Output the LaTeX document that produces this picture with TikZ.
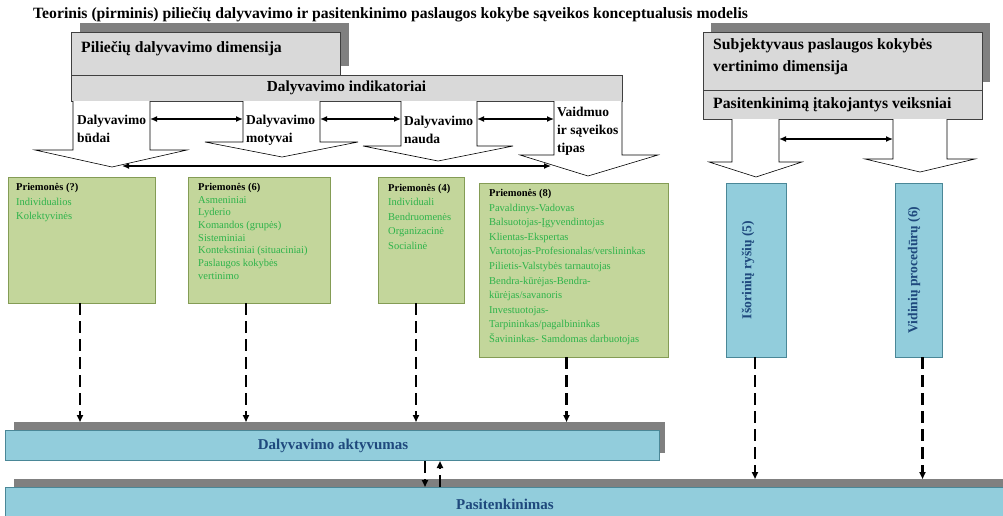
\documentclass[tikz,border=0pt]{standalone}
\usepackage{fontspec}
\setmainfont{Liberation Serif}
\usetikzlibrary{arrows.meta}
\definecolor{boxgray}{HTML}{D9D9D9}
\definecolor{shadowgray}{HTML}{808080}
\definecolor{gfill}{HTML}{C3D69B}
\definecolor{gdraw}{HTML}{849C55}
\definecolor{gtext}{HTML}{2DB34A}
\definecolor{bfill}{HTML}{92CDDC}
\definecolor{bdraw}{HTML}{4A8797}
\definecolor{btext}{HTML}{1F497D}
\tikzset{
  box/.style={anchor=north west, inner sep=0pt, outer sep=0pt},
  graybox/.style={box, draw=black!75, fill=boxgray, line width=0.7pt},
  shadowbox/.style={box, fill=shadowgray},
  gbox/.style={box, draw=gdraw, fill=gfill, line width=1pt},
  bbox/.style={box, draw=bdraw, fill=bfill, line width=1pt},
  headtxt/.style={anchor=west, inner sep=0pt, font=\bfseries\fontsize{15.7}{20}\selectfont},
  arrtxt/.style={anchor=north west, inner sep=0pt, align=left, font=\bfseries\fontsize{13.5}{18}\selectfont},
  gtxt/.style={anchor=north west, inner sep=0pt, align=left, text=gtext},
  blockarrow/.style={draw=black, fill=white, line width=0.6pt, line join=miter},
  dbl/.style={line width=1.3pt, {Latex[length=7pt,width=6pt]}-{Latex[length=7pt,width=6pt]}},
  dasharrow/.style={line width=2.2pt, dash pattern=on 12pt off 6pt, -{Triangle[length=7pt,width=6pt]}},
  botxt/.style={text=btext, font=\bfseries\fontsize{15}{18}\selectfont, inner sep=0pt}
}
\begin{document}
\begin{tikzpicture}[x=1pt,y=-1pt]
\useasboundingbox (0,0) rectangle (1003,515);
\clip (0,0) rectangle (1003,515);

% title
\node[anchor=west, inner sep=0pt, font=\bfseries\fontsize{15.7}{17}\selectfont] (title) at (33,15)
  {Teorinis (pirminis) piliečių dalyvavimo ir pasitenkinimo paslaugos kokybe sąveikos konceptualusis modelis};

% left header
\node[shadowbox, minimum width=269pt, minimum height=43pt] (sh1) at (80,23) {};
\node[graybox, minimum width=269pt, minimum height=43pt] (dim1) at (71,32) {};
\node[headtxt] (dim1t) at (81,49) {Piliečių dalyvavimo dimensija};
\node[graybox, minimum width=551pt, minimum height=26pt, font=\bfseries\fontsize{15.3}{18}\selectfont] (ind) at (71,75) {Dalyvavimo indikatoriai};

% right header
\node[shadowbox, minimum width=279pt, minimum height=59pt] (sh2) at (711,23) {};
\node[graybox, minimum width=279pt, minimum height=58pt] (dim2) at (703,32) {};
\node[headtxt, anchor=north west, align=left, font=\bfseries\fontsize{15.7}{22}\selectfont] (dim2t) at (713,38) {Subjektyvaus paslaugos kokybės\\vertinimo dimensija};
\node[graybox, minimum width=279pt, minimum height=29pt] (fac) at (703,90) {};
\node[headtxt] (fact) at (713,105) {Pasitenkinimą įtakojantys veiksniai};

% block arrows (left)
\filldraw[blockarrow] (73,101) -- (73,150) -- (35,150) -- (112,167) -- (187,150) -- (150,150) -- (150,101);
\filldraw[blockarrow] (243,101) -- (243,142) -- (205,142) -- (282,157) -- (358,142) -- (320,142) -- (320,101);
\filldraw[blockarrow] (401,101) -- (401,146) -- (363,146) -- (438,161) -- (513,146) -- (477,146) -- (477,101);
\filldraw[blockarrow] (554,101) -- (554,155) -- (520,155) -- (588,176) -- (658,155) -- (622,155) -- (622,101);
% block arrows (right)
\filldraw[blockarrow] (732,119) -- (732,162) -- (709,162) -- (756,177) -- (802,162) -- (779,162) -- (779,119);
\filldraw[blockarrow] (893,119) -- (893,159) -- (865,159) -- (920,172) -- (975,159) -- (947,159) -- (947,119);

% arrow labels
\node[arrtxt] (l1) at (77,115) {Dalyvavimo\\būdai};
\node[arrtxt] (l2) at (246,115) {Dalyvavimo\\motyvai};
\node[arrtxt] (l3) at (404,116) {Dalyvavimo\\nauda};
\node[arrtxt] (l4) at (557,107) {Vaidmuo\\ir sąveikos\\tipas};

% connection coordinates
\coordinate (a1r) at (150,119);
\coordinate (a2l) at (243,119);
\coordinate (a2r) at (320,119);
\coordinate (a3l) at (401,119);
\coordinate (a3r) at (477,119);
\coordinate (a4l) at (554,119);
\coordinate (h1) at (122,166);
\coordinate (h4) at (551,166);
\coordinate (r1r) at (779,139);
\coordinate (r2l) at (893,139);
\draw[dbl] (a1r) -- (a2l);
\draw[dbl] (a2r) -- (a3l);
\draw[dbl] (a3r) -- (a4l);
\draw[dbl] (h1) -- (h4);
\draw[dbl] (r1r) -- (r2l);

% green boxes
\node[gbox, minimum width=147pt, minimum height=126pt] (gA) at (8,177) {};
\node[gbox, minimum width=142pt, minimum height=126pt] (gB) at (188,177) {};
\node[gbox, minimum width=86pt, minimum height=126pt] (gC) at (378,177) {};
\node[gbox, minimum width=189pt, minimum height=174pt] (gD) at (479,183) {};

\node[gtxt, font=\fontsize{10.5}{14.6}\selectfont] (gAt) at (16,183)
  {\textcolor{black}{\textbf{Priemonės (?)}}\\Individualios\\Kolektyvinės};
\node[gtxt, font=\fontsize{10.5}{12.7}\selectfont] (gBt) at (198,183)
  {\textcolor{black}{\textbf{Priemonės (6)}}\\Asmeniniai\\Lyderio\\Komandos (grupės)\\Sisteminiai\\Kontekstiniai (situaciniai)\\Paslaugos kokybės\\vertinimo};
\node[gtxt, font=\fontsize{10.5}{14.4}\selectfont] (gCt) at (388,184)
  {\textcolor{black}{\textbf{Priemonės (4)}}\\Individuali\\Bendruomenės\\Organizacinė\\Socialinė};
\node[gtxt, font=\fontsize{10.5}{14.6}\selectfont] (gDt) at (489,189)
  {\textcolor{black}{\textbf{Priemonės (8)}}\\Pavaldinys-Vadovas\\Balsuotojas-Įgyvendintojas\\Klientas-Ekspertas\\Vartotojas-Profesionalas/verslininkas\\Pilietis-Valstybės tarnautojas\\Bendra-kūrėjas-Bendra-\\kūrėjas/savanoris\\Investuotojas-\\Tarpininkas/pagalbininkas\\Šavininkas- Samdomas darbuotojas};

% blue vertical boxes
\node[bbox, minimum width=60pt, minimum height=174pt] (b1) at (726,183) {};
\node[bbox, minimum width=47pt, minimum height=174pt] (b2) at (895,183) {};
\node[botxt, rotate=90, font=\bfseries\fontsize{13.6}{16}\selectfont] (b1t) at (748,270) {Išorinių ryšių (5)};
\node[botxt, rotate=90, font=\bfseries\fontsize{13.6}{16}\selectfont] (b2t) at (914,270) {Vidinių procedūrų (6)};

% bottom bars
\node[shadowbox, minimum width=651pt, minimum height=31pt] (actsh) at (14,422) {};
\node[bbox, minimum width=654pt, minimum height=30pt] (act) at (5,430) {};
\node[botxt] (actt) at (333,446) {Dalyvavimo aktyvumas};
\node[shadowbox, minimum width=1000pt, minimum height=31pt] (satsh) at (14,479) {};
\node[bbox, minimum width=1010pt, minimum height=40pt] (sat) at (5,487) {};
\node[botxt] (satt) at (505,504) {Pasitenkinimas};

% dashed arrows
\draw[dasharrow] ([xshift=-1.5pt]gA.south) -- ([xshift=-1.5pt]gA.south |- actsh.north);
\draw[dasharrow] ([xshift=-13pt]gB.south) -- ([xshift=-13pt]gB.south |- actsh.north);
\draw[dasharrow] ([xshift=-5pt]gC.south) -- ([xshift=-5pt]gC.south |- actsh.north);
\draw[dasharrow] ([xshift=-7pt]gD.south) -- ([xshift=-7pt]gD.south |- actsh.north);
\draw[dasharrow] ([xshift=-1pt]b1.south) -- ([xshift=-1pt]b1.south |- satsh.north);
\draw[dasharrow] ([xshift=4pt]b2.south) -- ([xshift=4pt]b2.south |- satsh.north);
\coordinate (ad) at (425,461);
\coordinate (au) at (440,461);
\draw[dasharrow] (ad) -- (ad |- sat.north);
\draw[dasharrow] (au |- sat.north) -- (au);
\end{tikzpicture}
\end{document}
